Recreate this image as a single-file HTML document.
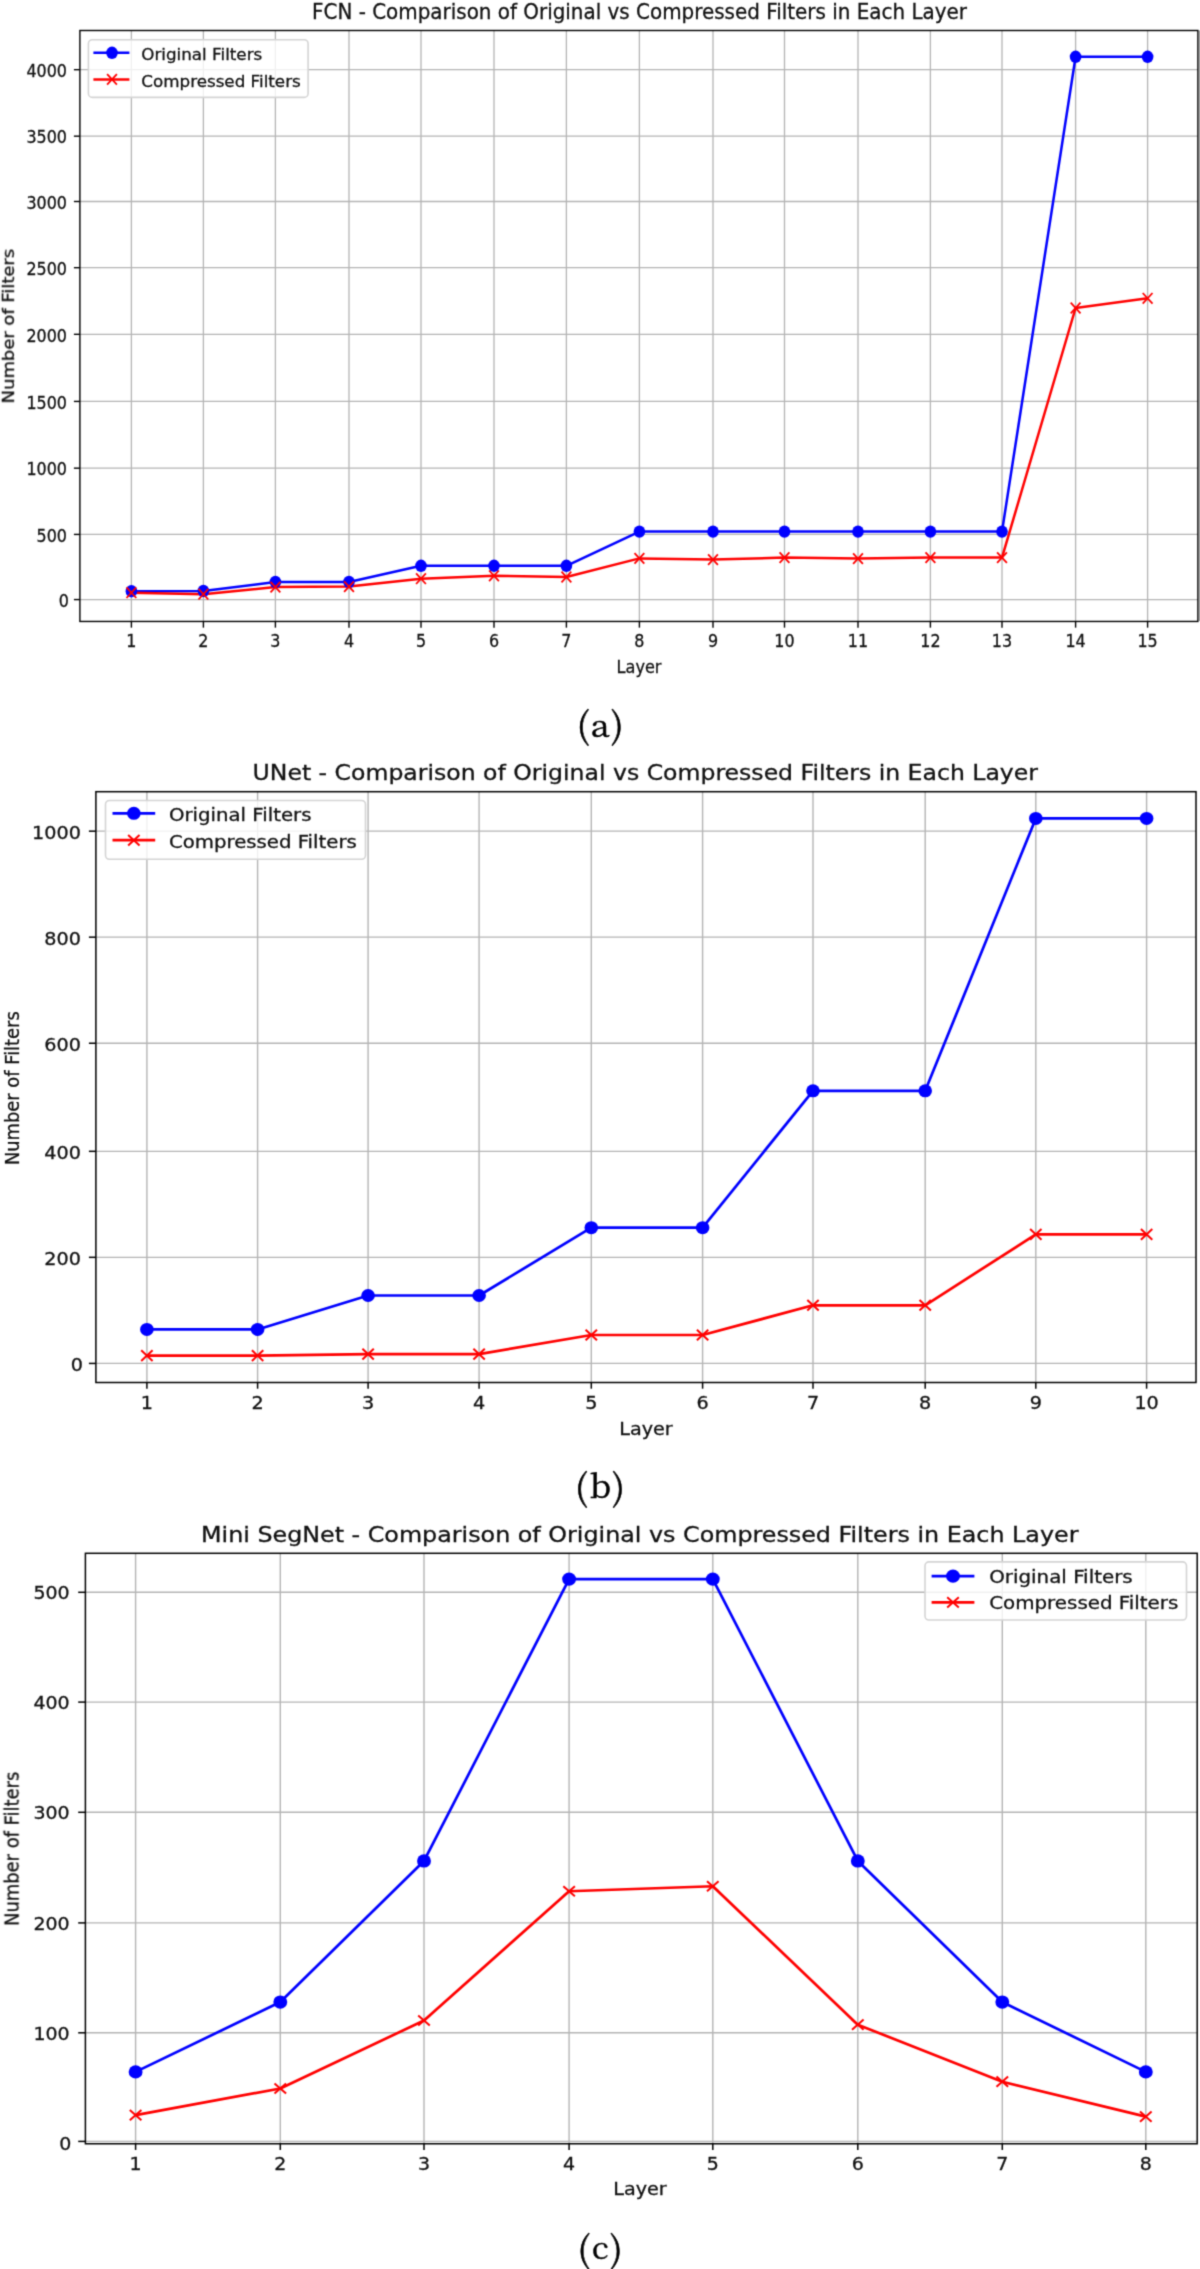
<!DOCTYPE html>
<html><head><meta charset="utf-8"><title>Comparison of Original vs Compressed Filters</title>
<style>
html,body{margin:0;padding:0;background:#fff;}
body{width:1200px;height:2269px;overflow:hidden;}
svg{display:block;}
.s{font-family:'DejaVu Sans','Liberation Sans',sans-serif;fill:#111;stroke:#111;stroke-width:0.3px;}
.r{font-family:'Noto Serif CJK SC','Liberation Serif',serif;fill:#000;stroke:#000;stroke-width:0.5px;}
</style></head>
<body>
<svg width="1200" height="2269" viewBox="0 0 1200 2269">
<defs><filter id="soft" x="0" y="0" width="1200" height="2269" filterUnits="userSpaceOnUse" color-interpolation-filters="sRGB"><feConvolveMatrix order="3" kernelMatrix="1 4 1 4 16 4 1 4 1" edgeMode="duplicate"/></filter></defs>
<rect width="1200" height="2269" fill="#fff"/>
<g filter="url(#soft)">
<rect width="1200" height="2269" fill="#fff"/>
<line x1="131.40" y1="30.50" x2="131.40" y2="621.45" stroke="#b4b4b4" stroke-width="1.3" stroke-linecap="butt"/>
<line x1="203.40" y1="30.50" x2="203.40" y2="621.45" stroke="#b4b4b4" stroke-width="1.3" stroke-linecap="butt"/>
<line x1="275.40" y1="30.50" x2="275.40" y2="621.45" stroke="#b4b4b4" stroke-width="1.3" stroke-linecap="butt"/>
<line x1="349.00" y1="30.50" x2="349.00" y2="621.45" stroke="#b4b4b4" stroke-width="1.3" stroke-linecap="butt"/>
<line x1="421.00" y1="30.50" x2="421.00" y2="621.45" stroke="#b4b4b4" stroke-width="1.3" stroke-linecap="butt"/>
<line x1="494.00" y1="30.50" x2="494.00" y2="621.45" stroke="#b4b4b4" stroke-width="1.3" stroke-linecap="butt"/>
<line x1="566.40" y1="30.50" x2="566.40" y2="621.45" stroke="#b4b4b4" stroke-width="1.3" stroke-linecap="butt"/>
<line x1="639.40" y1="30.50" x2="639.40" y2="621.45" stroke="#b4b4b4" stroke-width="1.3" stroke-linecap="butt"/>
<line x1="713.00" y1="30.50" x2="713.00" y2="621.45" stroke="#b4b4b4" stroke-width="1.3" stroke-linecap="butt"/>
<line x1="784.50" y1="30.50" x2="784.50" y2="621.45" stroke="#b4b4b4" stroke-width="1.3" stroke-linecap="butt"/>
<line x1="858.00" y1="30.50" x2="858.00" y2="621.45" stroke="#b4b4b4" stroke-width="1.3" stroke-linecap="butt"/>
<line x1="930.40" y1="30.50" x2="930.40" y2="621.45" stroke="#b4b4b4" stroke-width="1.3" stroke-linecap="butt"/>
<line x1="1002.00" y1="30.50" x2="1002.00" y2="621.45" stroke="#b4b4b4" stroke-width="1.3" stroke-linecap="butt"/>
<line x1="1075.60" y1="30.50" x2="1075.60" y2="621.45" stroke="#b4b4b4" stroke-width="1.3" stroke-linecap="butt"/>
<line x1="1147.60" y1="30.50" x2="1147.60" y2="621.45" stroke="#b4b4b4" stroke-width="1.3" stroke-linecap="butt"/>
<line x1="79.90" y1="599.58" x2="1197.90" y2="599.58" stroke="#b4b4b4" stroke-width="1.3" stroke-linecap="butt"/>
<line x1="79.90" y1="534.42" x2="1197.90" y2="534.42" stroke="#b4b4b4" stroke-width="1.3" stroke-linecap="butt"/>
<line x1="79.90" y1="468.17" x2="1197.90" y2="468.17" stroke="#b4b4b4" stroke-width="1.3" stroke-linecap="butt"/>
<line x1="79.90" y1="401.42" x2="1197.90" y2="401.42" stroke="#b4b4b4" stroke-width="1.3" stroke-linecap="butt"/>
<line x1="79.90" y1="334.33" x2="1197.90" y2="334.33" stroke="#b4b4b4" stroke-width="1.3" stroke-linecap="butt"/>
<line x1="79.90" y1="267.67" x2="1197.90" y2="267.67" stroke="#b4b4b4" stroke-width="1.3" stroke-linecap="butt"/>
<line x1="79.90" y1="201.50" x2="1197.90" y2="201.50" stroke="#b4b4b4" stroke-width="1.3" stroke-linecap="butt"/>
<line x1="79.90" y1="136.17" x2="1197.90" y2="136.17" stroke="#b4b4b4" stroke-width="1.3" stroke-linecap="butt"/>
<line x1="79.90" y1="69.67" x2="1197.90" y2="69.67" stroke="#b4b4b4" stroke-width="1.3" stroke-linecap="butt"/>
<polyline points="131.40,591.20 203.40,591.00 275.40,582.00 349.00,582.00 421.00,565.80 494.00,565.80 566.40,565.80 639.40,531.60 713.00,531.60 784.50,531.60 858.00,531.60 930.40,531.60 1002.00,531.60 1075.60,56.80 1147.60,56.80" fill="none" stroke="#0000ff" stroke-width="2.5" stroke-linejoin="round" stroke-linecap="butt"/>
<polyline points="131.40,592.70 203.40,594.20 275.40,587.10 349.00,586.60 421.00,578.70 494.00,575.80 566.40,577.00 639.40,558.40 713.00,559.60 784.50,557.60 858.00,558.60 930.40,557.60 1002.00,557.60 1075.60,308.00 1147.60,298.30" fill="none" stroke="#ff0000" stroke-width="2.5" stroke-linejoin="round" stroke-linecap="butt"/>
<ellipse cx="131.40" cy="591.20" rx="5.8" ry="6.2" fill="#0000ff"/>
<ellipse cx="203.40" cy="591.00" rx="5.8" ry="6.2" fill="#0000ff"/>
<ellipse cx="275.40" cy="582.00" rx="5.8" ry="6.2" fill="#0000ff"/>
<ellipse cx="349.00" cy="582.00" rx="5.8" ry="6.2" fill="#0000ff"/>
<ellipse cx="421.00" cy="565.80" rx="5.8" ry="6.2" fill="#0000ff"/>
<ellipse cx="494.00" cy="565.80" rx="5.8" ry="6.2" fill="#0000ff"/>
<ellipse cx="566.40" cy="565.80" rx="5.8" ry="6.2" fill="#0000ff"/>
<ellipse cx="639.40" cy="531.60" rx="5.8" ry="6.2" fill="#0000ff"/>
<ellipse cx="713.00" cy="531.60" rx="5.8" ry="6.2" fill="#0000ff"/>
<ellipse cx="784.50" cy="531.60" rx="5.8" ry="6.2" fill="#0000ff"/>
<ellipse cx="858.00" cy="531.60" rx="5.8" ry="6.2" fill="#0000ff"/>
<ellipse cx="930.40" cy="531.60" rx="5.8" ry="6.2" fill="#0000ff"/>
<ellipse cx="1002.00" cy="531.60" rx="5.8" ry="6.2" fill="#0000ff"/>
<ellipse cx="1075.60" cy="56.80" rx="5.8" ry="6.2" fill="#0000ff"/>
<ellipse cx="1147.60" cy="56.80" rx="5.8" ry="6.2" fill="#0000ff"/>
<path d="M126.50,587.40L136.30,598.00M126.50,598.00L136.30,587.40" stroke="#ff0000" stroke-width="1.8" fill="none"/>
<path d="M198.50,588.90L208.30,599.50M198.50,599.50L208.30,588.90" stroke="#ff0000" stroke-width="1.8" fill="none"/>
<path d="M270.50,581.80L280.30,592.40M270.50,592.40L280.30,581.80" stroke="#ff0000" stroke-width="1.8" fill="none"/>
<path d="M344.10,581.30L353.90,591.90M344.10,591.90L353.90,581.30" stroke="#ff0000" stroke-width="1.8" fill="none"/>
<path d="M416.10,573.40L425.90,584.00M416.10,584.00L425.90,573.40" stroke="#ff0000" stroke-width="1.8" fill="none"/>
<path d="M489.10,570.50L498.90,581.10M489.10,581.10L498.90,570.50" stroke="#ff0000" stroke-width="1.8" fill="none"/>
<path d="M561.50,571.70L571.30,582.30M561.50,582.30L571.30,571.70" stroke="#ff0000" stroke-width="1.8" fill="none"/>
<path d="M634.50,553.10L644.30,563.70M634.50,563.70L644.30,553.10" stroke="#ff0000" stroke-width="1.8" fill="none"/>
<path d="M708.10,554.30L717.90,564.90M708.10,564.90L717.90,554.30" stroke="#ff0000" stroke-width="1.8" fill="none"/>
<path d="M779.60,552.30L789.40,562.90M779.60,562.90L789.40,552.30" stroke="#ff0000" stroke-width="1.8" fill="none"/>
<path d="M853.10,553.30L862.90,563.90M853.10,563.90L862.90,553.30" stroke="#ff0000" stroke-width="1.8" fill="none"/>
<path d="M925.50,552.30L935.30,562.90M925.50,562.90L935.30,552.30" stroke="#ff0000" stroke-width="1.8" fill="none"/>
<path d="M997.10,552.30L1006.90,562.90M997.10,562.90L1006.90,552.30" stroke="#ff0000" stroke-width="1.8" fill="none"/>
<path d="M1070.70,302.70L1080.50,313.30M1070.70,313.30L1080.50,302.70" stroke="#ff0000" stroke-width="1.8" fill="none"/>
<path d="M1142.70,293.00L1152.50,303.60M1142.70,303.60L1152.50,293.00" stroke="#ff0000" stroke-width="1.8" fill="none"/>
<rect x="79.90" y="30.50" width="1118.00" height="590.95" fill="none" stroke="#000" stroke-width="1.4"/>
<line x1="1199.50" y1="30.50" x2="1199.50" y2="621.00" stroke="#a8a8a8" stroke-width="1.0" stroke-linecap="butt"/>
<line x1="131.40" y1="621.45" x2="131.40" y2="627.65" stroke="#000" stroke-width="1.4" stroke-linecap="butt"/>
<line x1="203.40" y1="621.45" x2="203.40" y2="627.65" stroke="#000" stroke-width="1.4" stroke-linecap="butt"/>
<line x1="275.40" y1="621.45" x2="275.40" y2="627.65" stroke="#000" stroke-width="1.4" stroke-linecap="butt"/>
<line x1="349.00" y1="621.45" x2="349.00" y2="627.65" stroke="#000" stroke-width="1.4" stroke-linecap="butt"/>
<line x1="421.00" y1="621.45" x2="421.00" y2="627.65" stroke="#000" stroke-width="1.4" stroke-linecap="butt"/>
<line x1="494.00" y1="621.45" x2="494.00" y2="627.65" stroke="#000" stroke-width="1.4" stroke-linecap="butt"/>
<line x1="566.40" y1="621.45" x2="566.40" y2="627.65" stroke="#000" stroke-width="1.4" stroke-linecap="butt"/>
<line x1="639.40" y1="621.45" x2="639.40" y2="627.65" stroke="#000" stroke-width="1.4" stroke-linecap="butt"/>
<line x1="713.00" y1="621.45" x2="713.00" y2="627.65" stroke="#000" stroke-width="1.4" stroke-linecap="butt"/>
<line x1="784.50" y1="621.45" x2="784.50" y2="627.65" stroke="#000" stroke-width="1.4" stroke-linecap="butt"/>
<line x1="858.00" y1="621.45" x2="858.00" y2="627.65" stroke="#000" stroke-width="1.4" stroke-linecap="butt"/>
<line x1="930.40" y1="621.45" x2="930.40" y2="627.65" stroke="#000" stroke-width="1.4" stroke-linecap="butt"/>
<line x1="1002.00" y1="621.45" x2="1002.00" y2="627.65" stroke="#000" stroke-width="1.4" stroke-linecap="butt"/>
<line x1="1075.60" y1="621.45" x2="1075.60" y2="627.65" stroke="#000" stroke-width="1.4" stroke-linecap="butt"/>
<line x1="1147.60" y1="621.45" x2="1147.60" y2="627.65" stroke="#000" stroke-width="1.4" stroke-linecap="butt"/>
<line x1="73.90" y1="599.58" x2="79.90" y2="599.58" stroke="#000" stroke-width="1.4" stroke-linecap="butt"/>
<line x1="73.90" y1="534.42" x2="79.90" y2="534.42" stroke="#000" stroke-width="1.4" stroke-linecap="butt"/>
<line x1="73.90" y1="468.17" x2="79.90" y2="468.17" stroke="#000" stroke-width="1.4" stroke-linecap="butt"/>
<line x1="73.90" y1="401.42" x2="79.90" y2="401.42" stroke="#000" stroke-width="1.4" stroke-linecap="butt"/>
<line x1="73.90" y1="334.33" x2="79.90" y2="334.33" stroke="#000" stroke-width="1.4" stroke-linecap="butt"/>
<line x1="73.90" y1="267.67" x2="79.90" y2="267.67" stroke="#000" stroke-width="1.4" stroke-linecap="butt"/>
<line x1="73.90" y1="201.50" x2="79.90" y2="201.50" stroke="#000" stroke-width="1.4" stroke-linecap="butt"/>
<line x1="73.90" y1="136.17" x2="79.90" y2="136.17" stroke="#000" stroke-width="1.4" stroke-linecap="butt"/>
<line x1="73.90" y1="69.67" x2="79.90" y2="69.67" stroke="#000" stroke-width="1.4" stroke-linecap="butt"/>
<text class="s" transform="translate(131.40,647.00) scale(0.9430,1)" font-size="16.90" text-anchor="middle">1</text>
<text class="s" transform="translate(203.40,647.00) scale(0.9430,1)" font-size="16.90" text-anchor="middle">2</text>
<text class="s" transform="translate(275.40,647.00) scale(0.9430,1)" font-size="16.90" text-anchor="middle">3</text>
<text class="s" transform="translate(349.00,647.00) scale(0.9430,1)" font-size="16.90" text-anchor="middle">4</text>
<text class="s" transform="translate(421.00,647.00) scale(0.9430,1)" font-size="16.90" text-anchor="middle">5</text>
<text class="s" transform="translate(494.00,647.00) scale(0.9430,1)" font-size="16.90" text-anchor="middle">6</text>
<text class="s" transform="translate(566.40,647.00) scale(0.9430,1)" font-size="16.90" text-anchor="middle">7</text>
<text class="s" transform="translate(639.40,647.00) scale(0.9430,1)" font-size="16.90" text-anchor="middle">8</text>
<text class="s" transform="translate(713.00,647.00) scale(0.9430,1)" font-size="16.90" text-anchor="middle">9</text>
<text class="s" transform="translate(784.50,647.00) scale(0.9430,1)" font-size="16.90" text-anchor="middle">10</text>
<text class="s" transform="translate(858.00,647.00) scale(0.9430,1)" font-size="16.90" text-anchor="middle">11</text>
<text class="s" transform="translate(930.40,647.00) scale(0.9430,1)" font-size="16.90" text-anchor="middle">12</text>
<text class="s" transform="translate(1002.00,647.00) scale(0.9430,1)" font-size="16.90" text-anchor="middle">13</text>
<text class="s" transform="translate(1075.60,647.00) scale(0.9430,1)" font-size="16.90" text-anchor="middle">14</text>
<text class="s" transform="translate(1147.60,647.00) scale(0.9430,1)" font-size="16.90" text-anchor="middle">15</text>
<text class="s" transform="translate(69.00,606.88) scale(0.9430,1)" font-size="16.90" text-anchor="end">0</text>
<text class="s" transform="translate(67.00,541.72) scale(0.9430,1)" font-size="16.90" text-anchor="end">500</text>
<text class="s" transform="translate(67.00,475.47) scale(0.9430,1)" font-size="16.90" text-anchor="end">1000</text>
<text class="s" transform="translate(67.00,408.72) scale(0.9430,1)" font-size="16.90" text-anchor="end">1500</text>
<text class="s" transform="translate(67.00,341.63) scale(0.9430,1)" font-size="16.90" text-anchor="end">2000</text>
<text class="s" transform="translate(67.00,274.97) scale(0.9430,1)" font-size="16.90" text-anchor="end">2500</text>
<text class="s" transform="translate(67.00,208.80) scale(0.9430,1)" font-size="16.90" text-anchor="end">3000</text>
<text class="s" transform="translate(67.00,143.47) scale(0.9430,1)" font-size="16.90" text-anchor="end">3500</text>
<text class="s" transform="translate(67.00,76.97) scale(0.9430,1)" font-size="16.90" text-anchor="end">4000</text>
<text class="s" transform="translate(639.50,19.00) scale(0.9400,1)" font-size="21.20" text-anchor="middle">FCN - Comparison of Original vs Compressed Filters in Each Layer</text>
<text class="s" transform="translate(639.00,672.90) scale(0.9600,1)" font-size="16.80" text-anchor="middle">Layer</text>
<text class="s" transform="translate(13.90,326.10) rotate(-90) scale(1.1570,1)" font-size="15.50" text-anchor="middle">Number of Filters</text>
<rect x="88.40" y="39.70" width="219.70" height="57.70" rx="4" fill="#fff" fill-opacity="0.8" stroke="#d4d4d4" stroke-width="1.6"/>
<line x1="93.40" y1="52.80" x2="129.40" y2="52.80" stroke="#0000ff" stroke-width="2.5" stroke-linecap="butt"/>
<ellipse cx="112.00" cy="52.80" rx="5.8" ry="6.2" fill="#0000ff"/>
<line x1="93.40" y1="79.40" x2="129.40" y2="79.40" stroke="#ff0000" stroke-width="2.5" stroke-linecap="butt"/>
<path d="M107.10,74.10L116.90,84.70M107.10,84.70L116.90,74.10" stroke="#ff0000" stroke-width="1.8" fill="none"/>
<text class="s" transform="translate(141.30,60.30) scale(1.0050,1)" font-size="16.65">Original Filters</text>
<text class="s" transform="translate(141.30,86.90) scale(1.0050,1)" font-size="16.65">Compressed Filters</text>
<text class="r" transform="translate(576.82,738.37) scale(1.0000,1)" font-size="35.50">(</text>
<text class="r" transform="translate(590.70,737.06) scale(1.1600,1)" font-size="29.50">a</text>
<text class="r" transform="translate(610.68,738.37) scale(1.0000,1)" font-size="35.50">)</text>
<line x1="146.90" y1="791.70" x2="146.90" y2="1382.50" stroke="#b4b4b4" stroke-width="1.4" stroke-linecap="butt"/>
<line x1="257.60" y1="791.70" x2="257.60" y2="1382.50" stroke="#b4b4b4" stroke-width="1.4" stroke-linecap="butt"/>
<line x1="368.10" y1="791.70" x2="368.10" y2="1382.50" stroke="#b4b4b4" stroke-width="1.4" stroke-linecap="butt"/>
<line x1="479.10" y1="791.70" x2="479.10" y2="1382.50" stroke="#b4b4b4" stroke-width="1.4" stroke-linecap="butt"/>
<line x1="591.30" y1="791.70" x2="591.30" y2="1382.50" stroke="#b4b4b4" stroke-width="1.4" stroke-linecap="butt"/>
<line x1="702.60" y1="791.70" x2="702.60" y2="1382.50" stroke="#b4b4b4" stroke-width="1.4" stroke-linecap="butt"/>
<line x1="813.00" y1="791.70" x2="813.00" y2="1382.50" stroke="#b4b4b4" stroke-width="1.4" stroke-linecap="butt"/>
<line x1="925.20" y1="791.70" x2="925.20" y2="1382.50" stroke="#b4b4b4" stroke-width="1.4" stroke-linecap="butt"/>
<line x1="1035.80" y1="791.70" x2="1035.80" y2="1382.50" stroke="#b4b4b4" stroke-width="1.4" stroke-linecap="butt"/>
<line x1="1146.60" y1="791.70" x2="1146.60" y2="1382.50" stroke="#b4b4b4" stroke-width="1.4" stroke-linecap="butt"/>
<line x1="95.90" y1="1363.42" x2="1196.00" y2="1363.42" stroke="#b4b4b4" stroke-width="1.4" stroke-linecap="butt"/>
<line x1="95.90" y1="1257.33" x2="1196.00" y2="1257.33" stroke="#b4b4b4" stroke-width="1.4" stroke-linecap="butt"/>
<line x1="95.90" y1="1151.33" x2="1196.00" y2="1151.33" stroke="#b4b4b4" stroke-width="1.4" stroke-linecap="butt"/>
<line x1="95.90" y1="1043.25" x2="1196.00" y2="1043.25" stroke="#b4b4b4" stroke-width="1.4" stroke-linecap="butt"/>
<line x1="95.90" y1="937.17" x2="1196.00" y2="937.17" stroke="#b4b4b4" stroke-width="1.4" stroke-linecap="butt"/>
<line x1="95.90" y1="831.17" x2="1196.00" y2="831.17" stroke="#b4b4b4" stroke-width="1.4" stroke-linecap="butt"/>
<polyline points="146.90,1329.47 257.60,1329.47 368.10,1295.52 479.10,1295.52 591.30,1227.65 702.60,1227.65 813.00,1090.81 925.20,1090.81 1035.80,818.45 1146.60,818.45" fill="none" stroke="#0000ff" stroke-width="2.7" stroke-linejoin="round" stroke-linecap="butt"/>
<polyline points="146.90,1355.60 257.60,1355.60 368.10,1354.10 479.10,1354.10 591.30,1335.00 702.60,1335.00 813.00,1305.30 925.20,1305.30 1035.80,1234.40 1146.60,1234.40" fill="none" stroke="#ff0000" stroke-width="2.7" stroke-linejoin="round" stroke-linecap="butt"/>
<ellipse cx="146.90" cy="1329.47" rx="6.8" ry="6.5" fill="#0000ff"/>
<ellipse cx="257.60" cy="1329.47" rx="6.8" ry="6.5" fill="#0000ff"/>
<ellipse cx="368.10" cy="1295.52" rx="6.8" ry="6.5" fill="#0000ff"/>
<ellipse cx="479.10" cy="1295.52" rx="6.8" ry="6.5" fill="#0000ff"/>
<ellipse cx="591.30" cy="1227.65" rx="6.8" ry="6.5" fill="#0000ff"/>
<ellipse cx="702.60" cy="1227.65" rx="6.8" ry="6.5" fill="#0000ff"/>
<ellipse cx="813.00" cy="1090.81" rx="6.8" ry="6.5" fill="#0000ff"/>
<ellipse cx="925.20" cy="1090.81" rx="6.8" ry="6.5" fill="#0000ff"/>
<ellipse cx="1035.80" cy="818.45" rx="6.8" ry="6.5" fill="#0000ff"/>
<ellipse cx="1146.60" cy="818.45" rx="6.8" ry="6.5" fill="#0000ff"/>
<path d="M141.20,1350.30L152.60,1360.90M141.20,1360.90L152.60,1350.30" stroke="#ff0000" stroke-width="2.0" fill="none"/>
<path d="M251.90,1350.30L263.30,1360.90M251.90,1360.90L263.30,1350.30" stroke="#ff0000" stroke-width="2.0" fill="none"/>
<path d="M362.40,1348.80L373.80,1359.40M362.40,1359.40L373.80,1348.80" stroke="#ff0000" stroke-width="2.0" fill="none"/>
<path d="M473.40,1348.80L484.80,1359.40M473.40,1359.40L484.80,1348.80" stroke="#ff0000" stroke-width="2.0" fill="none"/>
<path d="M585.60,1329.70L597.00,1340.30M585.60,1340.30L597.00,1329.70" stroke="#ff0000" stroke-width="2.0" fill="none"/>
<path d="M696.90,1329.70L708.30,1340.30M696.90,1340.30L708.30,1329.70" stroke="#ff0000" stroke-width="2.0" fill="none"/>
<path d="M807.30,1300.00L818.70,1310.60M807.30,1310.60L818.70,1300.00" stroke="#ff0000" stroke-width="2.0" fill="none"/>
<path d="M919.50,1300.00L930.90,1310.60M919.50,1310.60L930.90,1300.00" stroke="#ff0000" stroke-width="2.0" fill="none"/>
<path d="M1030.10,1229.10L1041.50,1239.70M1030.10,1239.70L1041.50,1229.10" stroke="#ff0000" stroke-width="2.0" fill="none"/>
<path d="M1140.90,1229.10L1152.30,1239.70M1140.90,1239.70L1152.30,1229.10" stroke="#ff0000" stroke-width="2.0" fill="none"/>
<rect x="95.90" y="791.70" width="1100.10" height="590.80" fill="none" stroke="#000" stroke-width="1.5"/>
<line x1="146.90" y1="1382.50" x2="146.90" y2="1388.70" stroke="#000" stroke-width="1.5" stroke-linecap="butt"/>
<line x1="257.60" y1="1382.50" x2="257.60" y2="1388.70" stroke="#000" stroke-width="1.5" stroke-linecap="butt"/>
<line x1="368.10" y1="1382.50" x2="368.10" y2="1388.70" stroke="#000" stroke-width="1.5" stroke-linecap="butt"/>
<line x1="479.10" y1="1382.50" x2="479.10" y2="1388.70" stroke="#000" stroke-width="1.5" stroke-linecap="butt"/>
<line x1="591.30" y1="1382.50" x2="591.30" y2="1388.70" stroke="#000" stroke-width="1.5" stroke-linecap="butt"/>
<line x1="702.60" y1="1382.50" x2="702.60" y2="1388.70" stroke="#000" stroke-width="1.5" stroke-linecap="butt"/>
<line x1="813.00" y1="1382.50" x2="813.00" y2="1388.70" stroke="#000" stroke-width="1.5" stroke-linecap="butt"/>
<line x1="925.20" y1="1382.50" x2="925.20" y2="1388.70" stroke="#000" stroke-width="1.5" stroke-linecap="butt"/>
<line x1="1035.80" y1="1382.50" x2="1035.80" y2="1388.70" stroke="#000" stroke-width="1.5" stroke-linecap="butt"/>
<line x1="1146.60" y1="1382.50" x2="1146.60" y2="1388.70" stroke="#000" stroke-width="1.5" stroke-linecap="butt"/>
<line x1="88.90" y1="1363.42" x2="95.90" y2="1363.42" stroke="#000" stroke-width="1.5" stroke-linecap="butt"/>
<line x1="88.90" y1="1257.33" x2="95.90" y2="1257.33" stroke="#000" stroke-width="1.5" stroke-linecap="butt"/>
<line x1="88.90" y1="1151.33" x2="95.90" y2="1151.33" stroke="#000" stroke-width="1.5" stroke-linecap="butt"/>
<line x1="88.90" y1="1043.25" x2="95.90" y2="1043.25" stroke="#000" stroke-width="1.5" stroke-linecap="butt"/>
<line x1="88.90" y1="937.17" x2="95.90" y2="937.17" stroke="#000" stroke-width="1.5" stroke-linecap="butt"/>
<line x1="88.90" y1="831.17" x2="95.90" y2="831.17" stroke="#000" stroke-width="1.5" stroke-linecap="butt"/>
<text class="s" transform="translate(146.90,1408.60) scale(1.1300,1)" font-size="17.00" text-anchor="middle">1</text>
<text class="s" transform="translate(257.60,1408.60) scale(1.1300,1)" font-size="17.00" text-anchor="middle">2</text>
<text class="s" transform="translate(368.10,1408.60) scale(1.1300,1)" font-size="17.00" text-anchor="middle">3</text>
<text class="s" transform="translate(479.10,1408.60) scale(1.1300,1)" font-size="17.00" text-anchor="middle">4</text>
<text class="s" transform="translate(591.30,1408.60) scale(1.1300,1)" font-size="17.00" text-anchor="middle">5</text>
<text class="s" transform="translate(702.60,1408.60) scale(1.1300,1)" font-size="17.00" text-anchor="middle">6</text>
<text class="s" transform="translate(813.00,1408.60) scale(1.1300,1)" font-size="17.00" text-anchor="middle">7</text>
<text class="s" transform="translate(925.20,1408.60) scale(1.1300,1)" font-size="17.00" text-anchor="middle">8</text>
<text class="s" transform="translate(1035.80,1408.60) scale(1.1300,1)" font-size="17.00" text-anchor="middle">9</text>
<text class="s" transform="translate(1146.60,1408.60) scale(1.1300,1)" font-size="17.00" text-anchor="middle">10</text>
<text class="s" transform="translate(83.10,1371.12) scale(1.1300,1)" font-size="17.00" text-anchor="end">0</text>
<text class="s" transform="translate(80.90,1265.03) scale(1.1300,1)" font-size="17.00" text-anchor="end">200</text>
<text class="s" transform="translate(80.90,1159.03) scale(1.1300,1)" font-size="17.00" text-anchor="end">400</text>
<text class="s" transform="translate(80.90,1050.95) scale(1.1300,1)" font-size="17.00" text-anchor="end">600</text>
<text class="s" transform="translate(80.90,944.87) scale(1.1300,1)" font-size="17.00" text-anchor="end">800</text>
<text class="s" transform="translate(80.90,838.87) scale(1.1300,1)" font-size="17.00" text-anchor="end">1000</text>
<text class="s" transform="translate(645.25,780.00) scale(1.0960,1)" font-size="21.50" text-anchor="middle">UNet - Comparison of Original vs Compressed Filters in Each Layer</text>
<text class="s" transform="translate(646.00,1434.50) scale(1.1300,1)" font-size="17.00" text-anchor="middle">Layer</text>
<text class="s" transform="translate(19.00,1088.20) rotate(-90) scale(0.9310,1)" font-size="19.20" text-anchor="middle">Number of Filters</text>
<rect x="105.50" y="800.50" width="260.00" height="58.80" rx="4" fill="#fff" fill-opacity="0.8" stroke="#d4d4d4" stroke-width="1.6"/>
<line x1="112.50" y1="813.30" x2="155.20" y2="813.30" stroke="#0000ff" stroke-width="2.7" stroke-linecap="butt"/>
<ellipse cx="133.85" cy="813.30" rx="6.8" ry="6.5" fill="#0000ff"/>
<line x1="112.50" y1="840.20" x2="155.20" y2="840.20" stroke="#ff0000" stroke-width="2.7" stroke-linecap="butt"/>
<path d="M128.15,834.90L139.55,845.50M128.15,845.50L139.55,834.90" stroke="#ff0000" stroke-width="2.0" fill="none"/>
<text class="s" transform="translate(169.00,821.00) scale(1.1080,1)" font-size="17.80">Original Filters</text>
<text class="s" transform="translate(169.00,847.60) scale(1.1080,1)" font-size="17.80">Compressed Filters</text>
<text class="r" transform="translate(575.12,1500.17) scale(1.0000,1)" font-size="35.50">(</text>
<text class="r" transform="translate(589.54,1498.33) scale(1.0900,1)" font-size="31.10">b</text>
<text class="r" transform="translate(611.93,1500.17) scale(1.0000,1)" font-size="35.50">)</text>
<line x1="135.60" y1="1553.30" x2="135.60" y2="2143.75" stroke="#b4b4b4" stroke-width="1.4" stroke-linecap="butt"/>
<line x1="280.30" y1="1553.30" x2="280.30" y2="2143.75" stroke="#b4b4b4" stroke-width="1.4" stroke-linecap="butt"/>
<line x1="424.00" y1="1553.30" x2="424.00" y2="2143.75" stroke="#b4b4b4" stroke-width="1.4" stroke-linecap="butt"/>
<line x1="569.10" y1="1553.30" x2="569.10" y2="2143.75" stroke="#b4b4b4" stroke-width="1.4" stroke-linecap="butt"/>
<line x1="712.80" y1="1553.30" x2="712.80" y2="2143.75" stroke="#b4b4b4" stroke-width="1.4" stroke-linecap="butt"/>
<line x1="857.80" y1="1553.30" x2="857.80" y2="2143.75" stroke="#b4b4b4" stroke-width="1.4" stroke-linecap="butt"/>
<line x1="1002.30" y1="1553.30" x2="1002.30" y2="2143.75" stroke="#b4b4b4" stroke-width="1.4" stroke-linecap="butt"/>
<line x1="1145.80" y1="1553.30" x2="1145.80" y2="2143.75" stroke="#b4b4b4" stroke-width="1.4" stroke-linecap="butt"/>
<line x1="85.40" y1="2141.40" x2="1197.20" y2="2141.40" stroke="#b4b4b4" stroke-width="1.4" stroke-linecap="butt"/>
<line x1="85.40" y1="2032.80" x2="1197.20" y2="2032.80" stroke="#b4b4b4" stroke-width="1.4" stroke-linecap="butt"/>
<line x1="85.40" y1="1922.90" x2="1197.20" y2="1922.90" stroke="#b4b4b4" stroke-width="1.4" stroke-linecap="butt"/>
<line x1="85.40" y1="1812.30" x2="1197.20" y2="1812.30" stroke="#b4b4b4" stroke-width="1.4" stroke-linecap="butt"/>
<line x1="85.40" y1="1702.10" x2="1197.20" y2="1702.10" stroke="#b4b4b4" stroke-width="1.4" stroke-linecap="butt"/>
<line x1="85.40" y1="1592.30" x2="1197.20" y2="1592.30" stroke="#b4b4b4" stroke-width="1.4" stroke-linecap="butt"/>
<polyline points="135.60,2071.90 280.30,2002.03 424.00,1860.96 569.10,1579.12 712.80,1579.12 857.80,1860.96 1002.30,2002.03 1145.80,2071.90" fill="none" stroke="#0000ff" stroke-width="2.7" stroke-linejoin="round" stroke-linecap="butt"/>
<polyline points="135.60,2115.20 280.30,2088.50 424.00,2020.50 569.10,1891.25 712.80,1886.25 857.80,2024.70 1002.30,2081.70 1145.80,2116.60" fill="none" stroke="#ff0000" stroke-width="2.7" stroke-linejoin="round" stroke-linecap="butt"/>
<ellipse cx="135.60" cy="2071.90" rx="6.95" ry="6.6" fill="#0000ff"/>
<ellipse cx="280.30" cy="2002.03" rx="6.95" ry="6.6" fill="#0000ff"/>
<ellipse cx="424.00" cy="1860.96" rx="6.95" ry="6.6" fill="#0000ff"/>
<ellipse cx="569.10" cy="1579.12" rx="6.95" ry="6.6" fill="#0000ff"/>
<ellipse cx="712.80" cy="1579.12" rx="6.95" ry="6.6" fill="#0000ff"/>
<ellipse cx="857.80" cy="1860.96" rx="6.95" ry="6.6" fill="#0000ff"/>
<ellipse cx="1002.30" cy="2002.03" rx="6.95" ry="6.6" fill="#0000ff"/>
<ellipse cx="1145.80" cy="2071.90" rx="6.95" ry="6.6" fill="#0000ff"/>
<path d="M129.80,2110.10L141.40,2120.30M129.80,2120.30L141.40,2110.10" stroke="#ff0000" stroke-width="2.0" fill="none"/>
<path d="M274.50,2083.40L286.10,2093.60M274.50,2093.60L286.10,2083.40" stroke="#ff0000" stroke-width="2.0" fill="none"/>
<path d="M418.20,2015.40L429.80,2025.60M418.20,2025.60L429.80,2015.40" stroke="#ff0000" stroke-width="2.0" fill="none"/>
<path d="M563.30,1886.15L574.90,1896.35M563.30,1896.35L574.90,1886.15" stroke="#ff0000" stroke-width="2.0" fill="none"/>
<path d="M707.00,1881.15L718.60,1891.35M707.00,1891.35L718.60,1881.15" stroke="#ff0000" stroke-width="2.0" fill="none"/>
<path d="M852.00,2019.60L863.60,2029.80M852.00,2029.80L863.60,2019.60" stroke="#ff0000" stroke-width="2.0" fill="none"/>
<path d="M996.50,2076.60L1008.10,2086.80M996.50,2086.80L1008.10,2076.60" stroke="#ff0000" stroke-width="2.0" fill="none"/>
<path d="M1140.00,2111.50L1151.60,2121.70M1140.00,2121.70L1151.60,2111.50" stroke="#ff0000" stroke-width="2.0" fill="none"/>
<rect x="85.40" y="1553.30" width="1111.80" height="590.45" fill="none" stroke="#000" stroke-width="1.5"/>
<line x1="135.60" y1="2143.75" x2="135.60" y2="2149.95" stroke="#000" stroke-width="1.5" stroke-linecap="butt"/>
<line x1="280.30" y1="2143.75" x2="280.30" y2="2149.95" stroke="#000" stroke-width="1.5" stroke-linecap="butt"/>
<line x1="424.00" y1="2143.75" x2="424.00" y2="2149.95" stroke="#000" stroke-width="1.5" stroke-linecap="butt"/>
<line x1="569.10" y1="2143.75" x2="569.10" y2="2149.95" stroke="#000" stroke-width="1.5" stroke-linecap="butt"/>
<line x1="712.80" y1="2143.75" x2="712.80" y2="2149.95" stroke="#000" stroke-width="1.5" stroke-linecap="butt"/>
<line x1="857.80" y1="2143.75" x2="857.80" y2="2149.95" stroke="#000" stroke-width="1.5" stroke-linecap="butt"/>
<line x1="1002.30" y1="2143.75" x2="1002.30" y2="2149.95" stroke="#000" stroke-width="1.5" stroke-linecap="butt"/>
<line x1="1145.80" y1="2143.75" x2="1145.80" y2="2149.95" stroke="#000" stroke-width="1.5" stroke-linecap="butt"/>
<line x1="78.20" y1="2141.40" x2="85.40" y2="2141.40" stroke="#000" stroke-width="1.5" stroke-linecap="butt"/>
<line x1="78.20" y1="2032.80" x2="85.40" y2="2032.80" stroke="#000" stroke-width="1.5" stroke-linecap="butt"/>
<line x1="78.20" y1="1922.90" x2="85.40" y2="1922.90" stroke="#000" stroke-width="1.5" stroke-linecap="butt"/>
<line x1="78.20" y1="1812.30" x2="85.40" y2="1812.30" stroke="#000" stroke-width="1.5" stroke-linecap="butt"/>
<line x1="78.20" y1="1702.10" x2="85.40" y2="1702.10" stroke="#000" stroke-width="1.5" stroke-linecap="butt"/>
<line x1="78.20" y1="1592.30" x2="85.40" y2="1592.30" stroke="#000" stroke-width="1.5" stroke-linecap="butt"/>
<text class="s" transform="translate(135.60,2169.60) scale(1.1170,1)" font-size="17.00" text-anchor="middle">1</text>
<text class="s" transform="translate(280.30,2169.60) scale(1.1170,1)" font-size="17.00" text-anchor="middle">2</text>
<text class="s" transform="translate(424.00,2169.60) scale(1.1170,1)" font-size="17.00" text-anchor="middle">3</text>
<text class="s" transform="translate(569.10,2169.60) scale(1.1170,1)" font-size="17.00" text-anchor="middle">4</text>
<text class="s" transform="translate(712.80,2169.60) scale(1.1170,1)" font-size="17.00" text-anchor="middle">5</text>
<text class="s" transform="translate(857.80,2169.60) scale(1.1170,1)" font-size="17.00" text-anchor="middle">6</text>
<text class="s" transform="translate(1002.30,2169.60) scale(1.1170,1)" font-size="17.00" text-anchor="middle">7</text>
<text class="s" transform="translate(1145.80,2169.60) scale(1.1170,1)" font-size="17.00" text-anchor="middle">8</text>
<text class="s" transform="translate(71.25,2149.90) scale(1.1170,1)" font-size="17.00" text-anchor="end">0</text>
<text class="s" transform="translate(69.65,2039.80) scale(1.1170,1)" font-size="17.00" text-anchor="end">100</text>
<text class="s" transform="translate(69.65,1929.90) scale(1.1170,1)" font-size="17.00" text-anchor="end">200</text>
<text class="s" transform="translate(69.65,1819.30) scale(1.1170,1)" font-size="17.00" text-anchor="end">300</text>
<text class="s" transform="translate(69.65,1709.10) scale(1.1170,1)" font-size="17.00" text-anchor="end">400</text>
<text class="s" transform="translate(69.65,1599.30) scale(1.1170,1)" font-size="17.00" text-anchor="end">500</text>
<text class="s" transform="translate(639.70,1541.70) scale(1.1340,1)" font-size="21.00" text-anchor="middle">Mini SegNet - Comparison of Original vs Compressed Filters in Each Layer</text>
<text class="s" transform="translate(640.00,2195.20) scale(1.1300,1)" font-size="17.00" text-anchor="middle">Layer</text>
<text class="s" transform="translate(18.60,1848.75) rotate(-90) scale(0.9090,1)" font-size="19.70" text-anchor="middle">Number of Filters</text>
<rect x="925.00" y="1561.90" width="261.50" height="58.10" rx="4" fill="#fff" fill-opacity="0.8" stroke="#d4d4d4" stroke-width="1.6"/>
<line x1="931.60" y1="1576.10" x2="974.40" y2="1576.10" stroke="#0000ff" stroke-width="2.7" stroke-linecap="butt"/>
<ellipse cx="953.00" cy="1576.10" rx="6.95" ry="6.6" fill="#0000ff"/>
<line x1="931.60" y1="1602.30" x2="974.40" y2="1602.30" stroke="#ff0000" stroke-width="2.7" stroke-linecap="butt"/>
<path d="M947.20,1597.20L958.80,1607.40M947.20,1607.40L958.80,1597.20" stroke="#ff0000" stroke-width="2.0" fill="none"/>
<text class="s" transform="translate(989.20,1583.00) scale(1.1280,1)" font-size="17.60">Original Filters</text>
<text class="s" transform="translate(989.20,1609.20) scale(1.1280,1)" font-size="17.60">Compressed Filters</text>
<text class="r" transform="translate(577.62,2261.67) scale(1.0000,1)" font-size="35.50">(</text>
<text class="r" transform="translate(592.03,2258.87) scale(1.0700,1)" font-size="29.00">c</text>
<text class="r" transform="translate(609.83,2261.67) scale(1.0000,1)" font-size="35.50">)</text>
</g>
</svg>
</body></html>
